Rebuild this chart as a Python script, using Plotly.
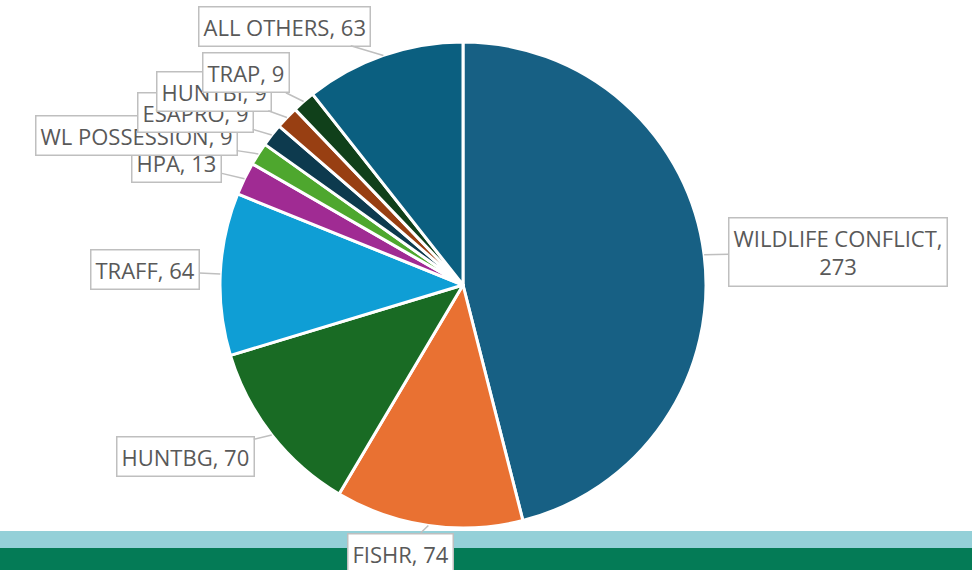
import math
import plotly.graph_objects as go

# ---- data ----
categories = ["WILDLIFE CONFLICT", "FISHR", "HUNTBG", "TRAFF", "HPA",
              "WL POSSESSION", "ESAPRO", "HUNTBI", "TRAP", "ALL OTHERS"]
values = [273, 74, 70, 64, 13, 9, 9, 9, 9, 63]
slice_colors = ["#176084", "#E97132", "#196B24", "#0F9ED5", "#A02B93",
                "#4EA72E", "#0D3A4E", "#983F12", "#10401A", "#0B5F80"]

# ---- layout geometry (pixels) ----
W, H = 972, 570
CX, CY, R = 463, 285, 243
# label box centres (pixels) per category
label_pos = {
    "WILDLIFE CONFLICT": (838, 252),
    "FISHR": (400, 553),
    "HUNTBG": (185, 456),
    "TRAFF": (145, 270),
    "HPA": (177, 163),
    "WL POSSESSION": (136, 135),
    "ESAPRO": (195, 112),
    "HUNTBI": (214, 91),
    "TRAP": (246, 73),
    "ALL OTHERS": (284, 26),
}

fig = go.Figure()
fig.add_trace(go.Pie(
    labels=categories, values=values, sort=False, direction="clockwise",
    rotation=0, textinfo="none", showlegend=False, hoverinfo="label+value",
    marker=dict(colors=slice_colors, line=dict(color="white", width=3)),
    domain=dict(x=[(CX - R) / W, (CX + R) / W],
                y=[(H - CY - R) / H, (H - CY + R) / H]),
))

shapes = [
    dict(type="rect", xref="paper", yref="paper", x0=0, x1=1,
         y0=1 - 548 / H, y1=1 - 531 / H, fillcolor="#94D0D8", line_width=0, layer="below"),
    dict(type="rect", xref="paper", yref="paper", x0=0, x1=1,
         y0=0, y1=1 - 548 / H, fillcolor="#047B56", line_width=0, layer="below"),
]

annotations = []
total = sum(values)
cum = 0
for cat, v in zip(categories, values):
    mid = (cum + v / 2) / total * 2 * math.pi
    cum += v
    tx = CX + R * math.sin(mid)
    ty = CY - R * math.cos(mid)
    bx, by = label_pos[cat]
    text = f"{cat},<br>{v}" if cat == "WILDLIFE CONFLICT" else f"{cat}, {v}"
    annotations.append(dict(
        x=tx / W, y=1 - ty / H, xref="paper", yref="paper",
        ax=bx - tx, ay=by - ty, axref="pixel", ayref="pixel",
        text=text, showarrow=True, arrowhead=0, arrowwidth=1.5,
        arrowcolor="#BFBFBF", bordercolor="#BFBFBF", borderwidth=1.5,
        borderpad=4, bgcolor="white",
        font=dict(family="Open Sans, sans-serif", size=22, color="#595959"),
    ))

fig.update_layout(
    width=W, height=H, margin=dict(l=0, r=0, t=0, b=0),
    paper_bgcolor="white", plot_bgcolor="white",
    shapes=shapes, annotations=annotations,
)
fig.write_html("out.html", config={"displayModeBar": False},
               post_script="document.body.style.margin='0';document.body.style.overflow='hidden';")
